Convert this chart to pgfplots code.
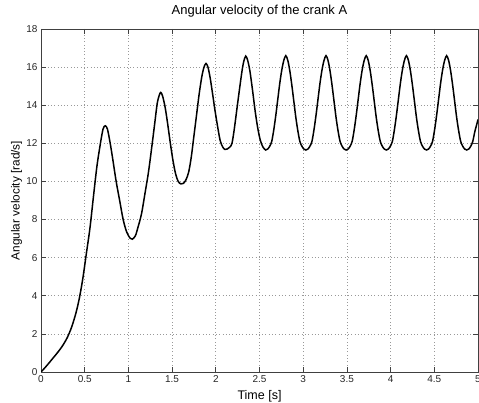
\documentclass[border=0pt]{standalone}
\usepackage{pgfplots}
\pgfplotsset{compat=1.18}
\usepackage{fontspec}
\setmainfont{Liberation Sans}
\begin{document}
\begin{tikzpicture}
\begin{axis}[
  at={(0,0)}, anchor=south west,
  scale only axis,
  width=437bp, height=343bp,
  xmin=0, xmax=5, ymin=0, ymax=18,
  xtick={0,0.5,...,5}, ytick={0,2,...,18},
  xticklabels={0,0.5,1,1.5,2,2.5,3,3.5,4,4.5,5},
  tick align=inside, tick pos=both,
  major tick length=5bp,
  grid=major,
  major grid style={dash pattern=on 0.7bp off 2.6bp, line width=0.7pt, black!40},
  axis line style={black!75, line width=0.7pt},
  every tick/.style={black!75, line width=0.7pt},
  /pgf/number format/assume math mode=true,
  ticklabel style={font=\fontsize{10bp}{12bp}\selectfont, text=black!85},
  title={Angular velocity of the crank A},
  title style={font=\fontsize{13bp}{15bp}\selectfont, at={(axis description cs:0.5,1.026)}, anchor=base},
  xlabel={Time [s]},
  xlabel style={font=\fontsize{12.5bp}{14bp}\selectfont, at={(axis description cs:0.5,-0.08)}, anchor=base},
  ylabel={Angular velocity [rad/s]},
  ylabel style={font=\fontsize{11.8bp}{14bp}\selectfont, at={(axis description cs:-0.049,0.5)}, anchor=base},
]
\addplot[black, line width=1.5bp, smooth, tension=0.5] coordinates {
(0,0) (0.05,0.25) (0.10,0.52) (0.15,0.80) (0.20,1.08) (0.25,1.40) (0.30,1.80) (0.35,2.35) (0.40,3.10) (0.44,3.9) (0.48,4.95) (0.52,6.25) (0.56,7.55) (0.60,9.2) (0.64,10.8) (0.68,12.0) (0.71,12.75) (0.735,12.92) (0.76,12.75) (0.79,12.05) (0.82,11.2) (0.86,10.0) (0.90,9.0) (0.94,8.0) (0.98,7.35) (1.02,7.02) (1.045,6.97) (1.08,7.15) (1.11,7.6) (1.15,8.3) (1.19,9.38) (1.23,10.5) (1.27,11.9) (1.30,13.0) (1.33,14.1) (1.355,14.55) (1.37,14.67) (1.39,14.5) (1.42,13.9) (1.45,13.0) (1.48,12.0) (1.51,11.1) (1.54,10.4) (1.57,10.0) (1.60,9.87) (1.63,9.9) (1.66,10.1) (1.69,10.5) (1.72,11.3) (1.75,12.4) (1.78,13.5) (1.81,14.6) (1.84,15.5) (1.865,16.0) (1.888,16.19) (1.91,16.0) (1.935,15.45) (1.96,14.7) (1.99,13.75) (2.02,12.9) (2.05,12.15) (2.08,11.8) (2.105,11.68) (2.13,11.7) (2.16,11.8) (2.185,12.0) (2.21,12.7) (2.24,13.75) (2.27,14.8) (2.30,15.8) (2.32,16.3) (2.342,16.58) (2.365,16.35) (2.39,15.8) (2.42,14.8) (2.45,13.7) (2.48,12.8) (2.51,12.15) (2.54,11.8)
(2.571,11.65) (2.594,11.70) (2.617,11.85) (2.640,12.10) (2.663,12.70) (2.686,13.45) (2.709,14.30) (2.732,15.15) (2.755,15.85) (2.778,16.35) (2.801,16.60) (2.824,16.35) (2.847,15.80) (2.870,15.05) (2.893,14.20) (2.916,13.35) (2.939,12.65) (2.962,12.10) (2.985,11.85) (3.008,11.70)
(3.031,11.65) (3.054,11.70) (3.077,11.85) (3.100,12.10) (3.123,12.70) (3.146,13.45) (3.169,14.30) (3.192,15.15) (3.215,15.85) (3.238,16.35) (3.261,16.60) (3.284,16.35) (3.307,15.80) (3.330,15.05) (3.353,14.20) (3.376,13.35) (3.399,12.65) (3.422,12.10) (3.445,11.85) (3.468,11.70)
(3.491,11.65) (3.514,11.70) (3.537,11.85) (3.560,12.10) (3.583,12.70) (3.606,13.45) (3.629,14.30) (3.652,15.15) (3.675,15.85) (3.698,16.35) (3.721,16.60) (3.744,16.35) (3.767,15.80) (3.790,15.05) (3.813,14.20) (3.836,13.35) (3.859,12.65) (3.882,12.10) (3.905,11.85) (3.928,11.70)
(3.951,11.65) (3.974,11.70) (3.997,11.85) (4.020,12.10) (4.043,12.70) (4.066,13.45) (4.089,14.30) (4.112,15.15) (4.135,15.85) (4.158,16.35) (4.181,16.60) (4.204,16.35) (4.227,15.80) (4.250,15.05) (4.273,14.20) (4.296,13.35) (4.319,12.65) (4.342,12.10) (4.365,11.85) (4.388,11.70)
(4.411,11.65) (4.434,11.70) (4.457,11.85) (4.480,12.10) (4.503,12.70) (4.526,13.45) (4.549,14.30) (4.572,15.15) (4.595,15.85) (4.618,16.35) (4.641,16.60) (4.664,16.35) (4.687,15.80) (4.710,15.05) (4.733,14.20) (4.756,13.35) (4.779,12.65) (4.802,12.10) (4.825,11.85) (4.848,11.70)
(4.871,11.65) (4.894,11.70) (4.917,11.85) (4.940,12.10) (4.963,12.60) (4.986,13.0) (5.0,13.25)
};
\end{axis}
\pgfresetboundingbox
\path[use as bounding box] (-41bp,-31bp) rectangle (438bp,372bp);
\end{tikzpicture}
\end{document}
